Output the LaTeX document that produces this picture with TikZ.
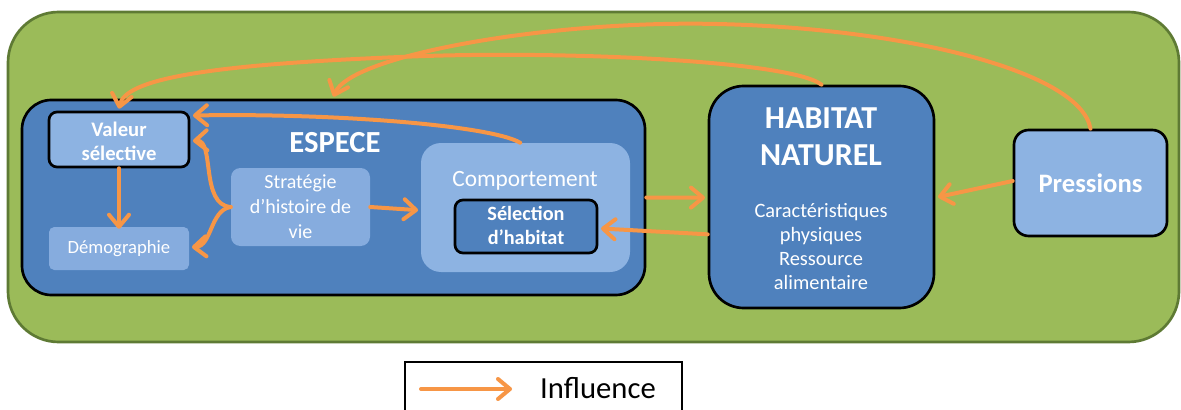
\documentclass[tikz,border=0pt]{standalone}
\usepackage{fontspec}
\setmainfont{Carlito}
\usetikzlibrary{arrows.meta,fit}
\definecolor{greenfill}{HTML}{9BBB59}
\definecolor{greenline}{HTML}{5E7A34}
\definecolor{bluedark}{HTML}{4F81BD}
\definecolor{bluelight}{HTML}{8DB3E2}
\definecolor{bluesoft}{HTML}{86ACDE}
\definecolor{orangearrow}{HTML}{F79646}
\begin{document}
\begin{tikzpicture}[x=0.75pt,y=-0.75pt,
  fitbox/.style={inner sep=0pt},
  frame/.style={draw=black, line width=2pt},
  inf/.style={draw=orangearrow, line width=3pt, line cap=round,
    -{Straight Barb[length=9pt,width=15pt,round]}},
  wtext/.style={text=white, align=center, inner sep=0pt}
]
\useasboundingbox (0,0) rectangle (1181,410);
% background frame
\node[fitbox, fill=greenfill, draw=greenline, line width=2pt, rounded corners=38pt,
  fit={(8,12) (1179,342)}] (env) {};
% species
\node[fitbox, frame, fill=bluedark, rounded corners=22pt, fit={(22,100) (645,295)}] (espece) {};
\node[wtext, font=\fontsize{23}{27}\selectfont\bfseries] (especelabel) at (335,143) {ESPECE};
\node[fitbox, frame, fill=bluelight, rounded corners=6pt, fit={(49,112) (189,167)}] (valeur) {};
\node[wtext, font=\fontsize{15.5}{18}\selectfont\bfseries] (valeurtext) at ([yshift=-1pt]valeur.center) {Valeur\\sélective};
\node[fitbox, fill=bluesoft, rounded corners=4pt, fit={(49,227) (189,270)}] (demo) {};
\node[wtext, font=\fontsize{14}{16}\selectfont] (demotext) at (demo.center) {Démographie};
\node[fitbox, fill=bluesoft, rounded corners=7pt, fit={(231,168) (370,246)}] (strat) {};
\node[wtext, font=\fontsize{15}{18.75}\selectfont] (strattext) at (strat.center) {Stratégie\\d’histoire de\\vie};
\node[fitbox, fill=bluelight, rounded corners=15pt, fit={(421,143) (630,272)}] (comp) {};
\node[wtext, font=\fontsize{17.5}{21}\selectfont] (complabel) at (525,181) {Comportement};
\node[fitbox, frame, fill=bluedark, rounded corners=6pt, fit={(455,200) (597,253)}] (sel) {};
\node[wtext, font=\fontsize{15.2}{18}\selectfont\bfseries] (seltext) at ([yshift=1pt]sel.center) {Sélection\\d’habitat};
% habitat
\node[fitbox, frame, fill=bluedark, rounded corners=26pt, fit={(709,86) (934,308)}] (habitat) {};
\node[wtext, font=\fontsize{24}{28}\selectfont\bfseries] (habtitle) at (821,137) {HABITAT\\NATUREL};
\node[wtext, font=\fontsize{15.3}{18}\selectfont] (habtext) at (821,247) {Caractéristiques\\physiques\\Ressource\\alimentaire};
% pressions
\node[fitbox, frame, fill=bluelight, rounded corners=11pt, fit={(1014,130) (1167,236)}] (press) {};
\node[wtext, font=\fontsize{20}{24}\selectfont\bfseries] (presstext) at (press.center) {Pressions};
% legend
\node[inner sep=0pt, draw=black, line width=0.8pt, fill=white, fit={(405,362) (682,418)}] (legend) {};
\coordinate (legA) at (421,389);
\coordinate (legB) at (512,389);
\node[inner sep=0pt, font=\fontsize{23}{27}\selectfont] (inflabel) at (598,388) {Influence};
% arrows
\draw[inf] (valeur.south) -- ([yshift=-1.5pt]demo.north);
\draw[inf] (strat.west) .. controls (200,205) and (215,140) .. ([xshift=2pt,yshift=-1pt]valeur.east);
\draw[inf] (strat.west) .. controls (210,210) and (212,246) .. ([xshift=2pt,yshift=1pt]demo.east);
\draw[inf] (strat.east) -- ([xshift=-2pt,yshift=-2pt]comp.west);
\draw[inf] ([xshift=-4pt]comp.north) .. controls (490,125) and (330,113) .. ([xshift=2pt,yshift=18pt]valeur.east);
\draw[inf] (espece.east) -- ([xshift=-2pt,yshift=-0.5pt]habitat.west);
\draw[inf] ([yshift=-28pt]habitat.west) -- ([xshift=2pt,yshift=-1.5pt]sel.east);
\draw[inf] ([yshift=1.5pt]press.west) -- ([xshift=2pt]habitat.east);
\draw[inf] (habitat.north) .. controls (790,60) and (550,50) .. (400,57)
  .. controls (200,65) and (125,80) .. ([yshift=1.5pt]valeur.north);
\draw[inf] (press.north) .. controls (1080,70) and (900,28) .. (717,24)
  .. controls (550,20) and (350,55) .. ([yshift=1.5pt]espece.north);
\draw[inf] (legA) -- (legB);
\end{tikzpicture}
\end{document}
